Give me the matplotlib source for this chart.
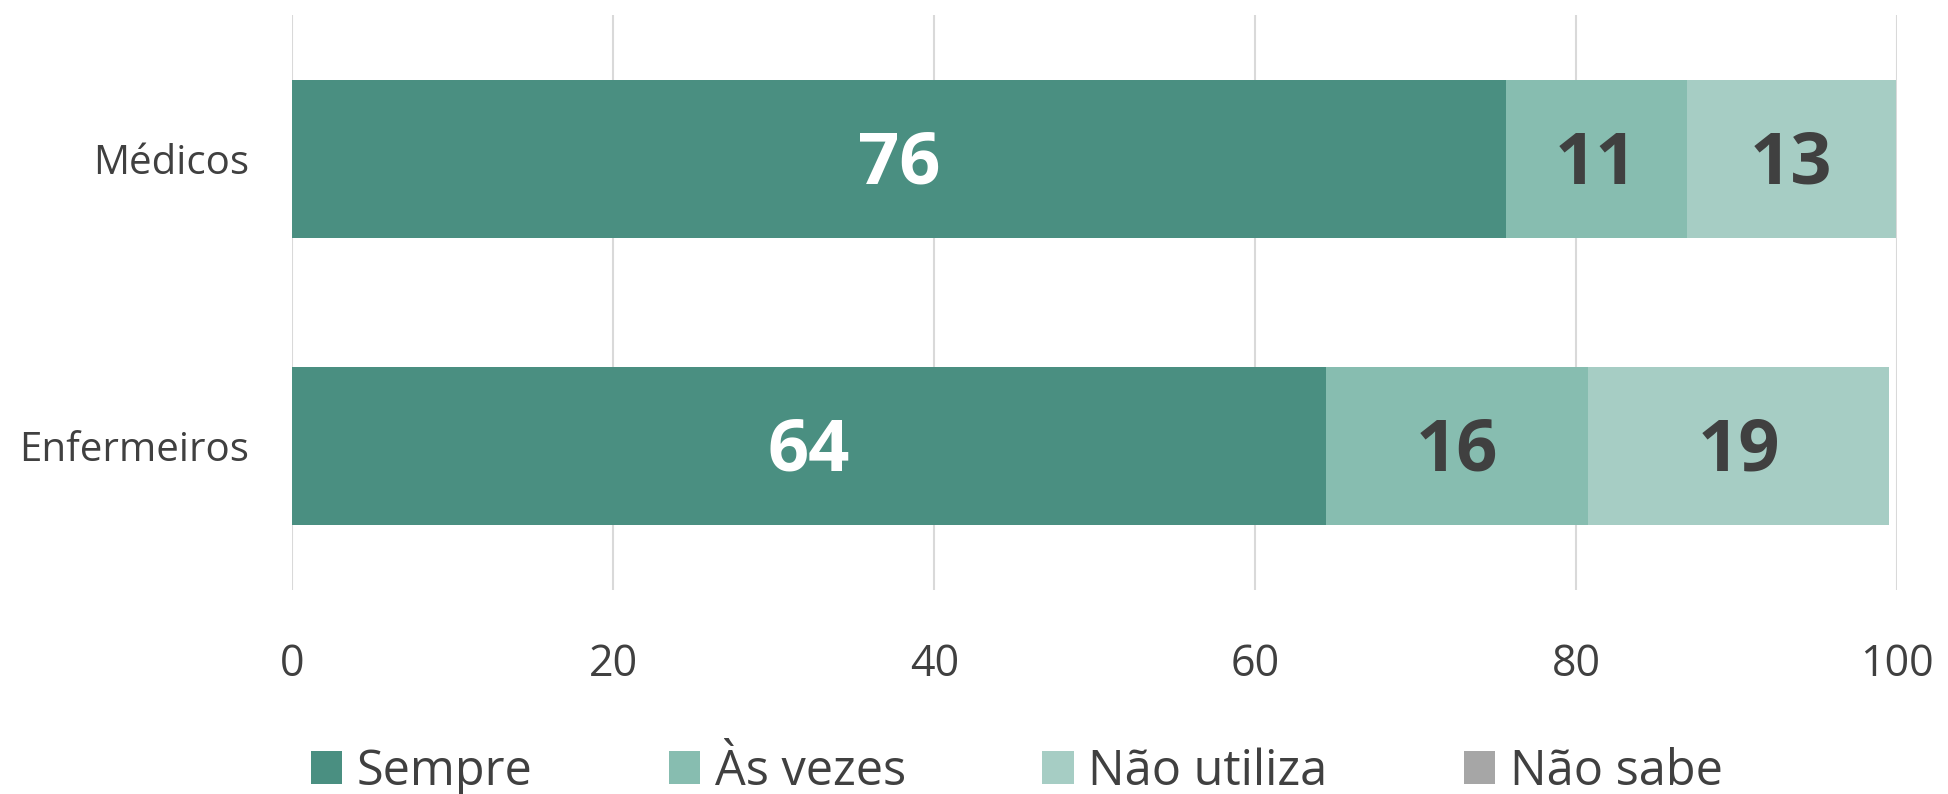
#!/usr/bin/env python3

import numpy as np
import matplotlib
matplotlib.use("Agg")
import matplotlib.pyplot as plt
from matplotlib.patches import Patch

'''
Stacked horizontal bars: how often doctors and nurses use it (percent).
'''

groups = ["Médicos", "Enfermeiros"]
series_names = ["Sempre", "Às vezes", "Não utiliza", "Não sabe"]
sempre = [75.6, 64.4]
as_vezes = [11.3, 16.3]
nao_utiliza = [13.0, 18.8]
nao_sabe = [0.0, 0.0]
labels_sempre = ["76", "64"]
labels_as_vezes = ["11", "16"]
labels_nao_utiliza = ["13", "19"]
x_ticks = [0, 20, 40, 60, 80, 100]

colors = ["#4A8F81", "#87BDB0", "#A6CDC4", "#A6A6A6"]
text_col = "#404040"

plt.rcParams['font.family'] = ['Open Sans', 'DejaVu Sans']

fig = plt.figure(figsize=(19.48, 7.94), dpi=100)
ax = fig.add_axes([0.15, 0.257, 0.824, 0.724])

y = np.arange(len(groups))
series = [sempre, as_vezes, nao_utiliza, nao_sabe]
label_sets = [labels_sempre, labels_as_vezes, labels_nao_utiliza, None]
label_cols = ["white", text_col, text_col, text_col]

left = np.zeros(len(groups))
for vals, col, labs, lcol in zip(series, colors, label_sets, label_cols):
	vals = np.array(vals)
	ax.barh(y, vals, left=left, height=0.55, color=col, zorder=2)
	if labs is not None:
		for i in range(len(groups)):
			ax.text(left[i] + vals[i] / 2, y[i] + 0.02, labs[i], ha="center", va="center",
				fontsize=52, fontweight="bold", color=lcol, zorder=3)
	left = left + vals

ax.set_xlim(0, 100)
ax.set_ylim(1.5, -0.5)
ax.set_xticks(x_ticks)
ax.set_xticklabels([str(t) for t in x_ticks])
ax.set_yticks(y)
ax.set_yticklabels(groups)
ax.tick_params(axis="x", length=0, labelsize=31, labelcolor=text_col, pad=38)
ax.tick_params(axis="y", length=0, labelsize=29, labelcolor=text_col, pad=31)
ax.grid(axis="x", color="#D9D9D9", linewidth=1.5, zorder=0)
for s in ax.spines.values():
	s.set_visible(False)

handles = [Patch(facecolor=c, edgecolor="none") for c in colors]
fig.legend(handles, series_names, loc="center", bbox_to_anchor=(0.522, 0.028), ncol=4,
	frameon=False, fontsize=35, labelcolor=text_col, handlelength=0.65, handleheight=0.65,
	handletextpad=0.3, columnspacing=2.8)

fig.savefig("out.png", dpi=100)
